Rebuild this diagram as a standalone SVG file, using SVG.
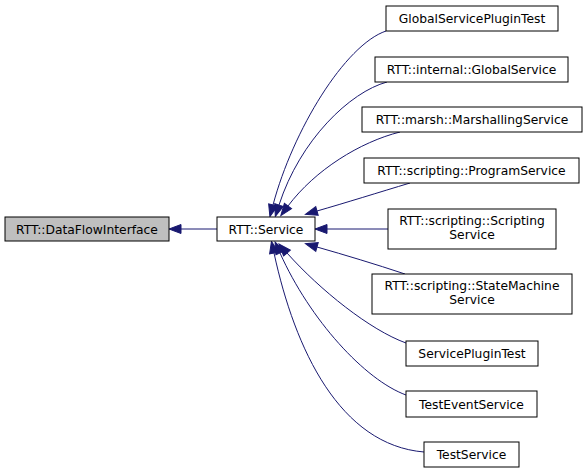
<svg xmlns="http://www.w3.org/2000/svg" width="587" height="473" viewBox="0 0 587 473">
<style>
.n rect{fill:#fff;stroke:#000;stroke-width:1}
.n.g rect{fill:#bfbfbf}
text{font-family:"DejaVu Sans","Liberation Sans",sans-serif;font-size:12.3px;fill:#000;text-anchor:middle}
.e path{fill:none;stroke:#191970;stroke-width:1;marker-end:url(#a)}
</style>
<defs>
<marker id="a" markerUnits="userSpaceOnUse" markerWidth="14" markerHeight="12" refX="0" refY="4.5" orient="auto" overflow="visible">
<path d="M0,0 L12,4.5 L0,9 Z" fill="#191970" stroke="#191970"/>
</marker>
</defs>
<rect width="587" height="473" fill="#fff"/>
<g class="e">
<path d="M217,229 L181,229"/>
<path d="M386,31 C345,45 293,130 273,205"/>
<path d="M387,82 C350,92 300,140 279,205"/>
<path d="M400,132 C360,142 315,170 288,206"/>
<path d="M410,183 C380,192 345,203 317,211"/>
<path d="M388,229 L327,229"/>
<path d="M405,274 C375,264 345,255 317,247"/>
<path d="M406,343 C370,330 320,290 287,253"/>
<path d="M406,395 C365,380 310,320 280,253"/>
<path d="M424,452 C340,445 295,350 274,253"/>
</g>
<g id="n0" class="n g"><rect x="5" y="217" width="164" height="24"/><text x="87" y="233.5">RTT::DataFlowInterface</text></g>
<g id="n1" class="n"><rect x="217" y="217" width="98" height="24"/><text x="266" y="233.5">RTT::Service</text></g>
<g id="n2" class="n"><rect x="386" y="6" width="172" height="25"/><text x="472" y="23">GlobalServicePluginTest</text></g>
<g id="n3" class="n"><rect x="375" y="57" width="193" height="25"/><text x="471.5" y="74">RTT::internal::GlobalService</text></g>
<g id="n4" class="n"><rect x="362" y="107" width="220" height="25"/><text x="472" y="124">RTT::marsh::MarshallingService</text></g>
<g id="n5" class="n"><rect x="364" y="158" width="215" height="25"/><text x="471.5" y="175">RTT::scripting::ProgramService</text></g>
<g id="n6" class="n"><rect x="388" y="209" width="168" height="40"/><text x="472" y="225">RTT::scripting::Scripting</text><text x="472" y="239">Service</text></g>
<g id="n7" class="n"><rect x="372" y="274" width="200" height="40"/><text x="472" y="290">RTT::scripting::StateMachine</text><text x="472" y="304">Service</text></g>
<g id="n8" class="n"><rect x="406" y="341" width="132" height="25"/><text x="472" y="358">ServicePluginTest</text></g>
<g id="n9" class="n"><rect x="406" y="391" width="131" height="26"/><text x="471.5" y="408.5">TestEventService</text></g>
<g id="n10" class="n"><rect x="424" y="442" width="95" height="25"/><text x="471.5" y="459">TestService</text></g>
</svg>
